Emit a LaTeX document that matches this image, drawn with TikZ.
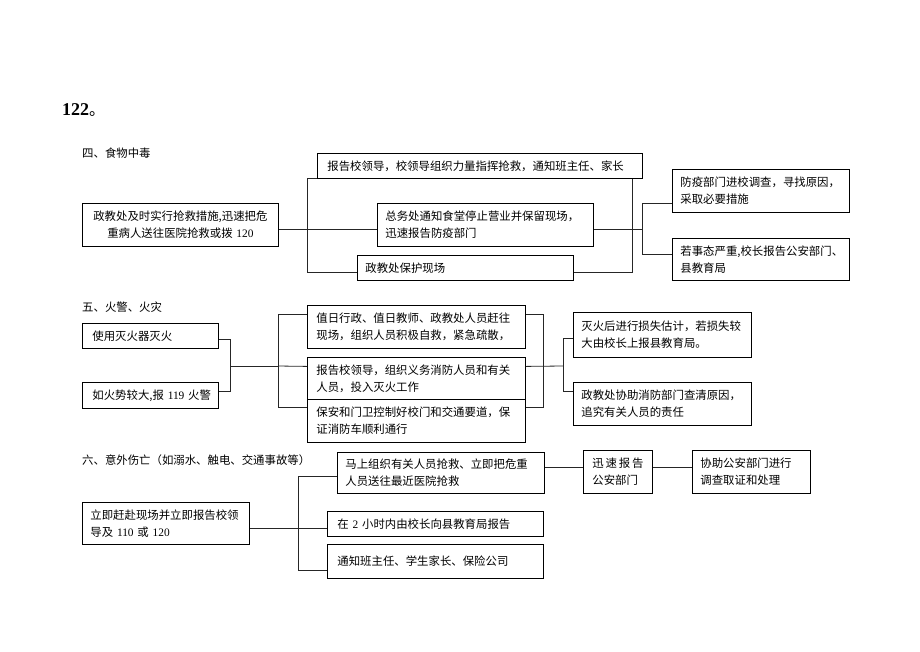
\documentclass[tikz,border=0pt]{standalone}
\usepackage{fontspec}
\setmainfont{Liberation Serif}
\newfontfamily\cjk{Noto Sans CJK SC}
\usepackage{tikz}
\usetikzlibrary{positioning, calc}

\begin{document}
\begin{tikzpicture}[x=1pt, y=-1pt]
\tikzstyle{box} = [rectangle, anchor=north west, draw=black, line width=0.8pt, fill=white, inner xsep=8pt, inner ysep=0pt, align=left, font={\cjk\fontsize{11.4}{17}\selectfont}]
\tikzstyle{title} = [anchor=west, inner sep=0pt, font={\cjk\fontsize{11.4}{14}\selectfont}]
\tikzstyle{line} = [line width=0.8pt, black!85]

\useasboundingbox (0,0) rectangle (920,651);

% header
\node[anchor=west, inner sep=0pt, font={\fontsize{18}{20}\selectfont\bfseries}] (head) at (62,110) {122{\cjk\mdseries\fontsize{16}{18}\selectfont 。}};

% food poisoning
\node[title] (sec4) at (82,153) {四、食物中毒};
\coordinate (f4nw) at (307,178);
\coordinate (f4se) at (632,272);
\draw[line] (f4nw) rectangle (f4se);

\node[box, align=center, text width=180, minimum height=43] (save) at (82,203) {政教处及时实行抢救措施,迅速把危\\重病人送往医院抢救或拨 \textrm{120}};
\node[box, inner xsep=10pt, text width=305, minimum height=25] (report4) at (317,153) {报告校领导，校领导组织力量指挥抢救，通知班主任、家长};
\node[box, text width=200, minimum height=43] (notify4) at (377,203) {总务处通知食堂停止营业并保留现场，\\迅速报告防疫部门};
\node[box, text width=200, minimum height=25] (protect4) at (357,255) {政教处保护现场};
\node[box, text width=161, minimum height=43] (r1) at (672,169) {防疫部门进校调查，寻找原因，\\采取必要措施};
\node[box, text width=161, minimum height=42] (r2) at (672,238) {若事态严重,校长报告公安部门、\\县教育局};

\draw[line] ([yshift=-4.5pt]save.east) -- ([yshift=-4.5pt]notify4.west);
\draw[line] ([yshift=-4.5pt]notify4.east) -- ++(49,0) coordinate (j4);
\draw[line] (j4) |- ([yshift=-12.5pt]r1.west);
\draw[line] (j4) |- ([yshift=5pt]r2.west);

% fire
\node[title] (sec5) at (82,307) {五、火警、火灾};
\node[box, inner xsep=10pt, text width=116, minimum height=25] (ext) at (82,323) {使用灭火器灭火};
\node[box, inner xsep=6pt, text width=124, minimum height=26] (big) at (82,382) {\hspace{4pt}如火势较大,报 \textrm{119} 火警};
\node[box, inner xsep=9pt, text width=200, minimum height=43] (f1) at (307,305) {值日行政、值日教师、政教处人员赶往\\现场，组织人员积极自救，紧急疏散，};
\node[box, inner xsep=9pt, text width=200, minimum height=42] (f2) at (307,357) {报告校领导，组织义务消防人员和有关\\人员，投入灭火工作};
\node[box, inner xsep=9pt, text width=200, minimum height=43] (f3) at (307,399) {保安和门卫控制好校门和交通要道，保\\证消防车顺利通行};
\node[box, text width=162, minimum height=45] (g1) at (573,312) {灭火后进行损失估计，若损失较\\大由校长上报县教育局。};
\node[box, text width=162, minimum height=43] (g2) at (573,382) {政教处协助消防部门查清原因，\\追究有关人员的责任};

\coordinate (j5a) at (230,366);
\coordinate (j5b) at (278,366);
\coordinate (j5c) at (543,366);
\coordinate (j5d) at (563,366);
\draw[line] ([yshift=-3.5pt]ext.east) -| (j5a);
\draw[line] ([yshift=4pt]big.east) -| (j5a);
\draw[line] (j5a) -- (j5b);
\draw[line] (j5b) |- ([yshift=12.5pt]f1.west);
\draw[line] (j5b) -- ([yshift=12pt]f2.west);
\draw[line] (j5b) |- ([yshift=13.5pt]f3.west);
\draw[line] ([yshift=12.5pt]f1.east) -| (j5c);
\draw[line] ([yshift=13.5pt]f3.east) -| (j5c);
\draw[line] ([yshift=12pt]f2.east) -- (j5d);
\draw[line] (j5d) |- ([yshift=-3.5pt]g1.west);
\draw[line] (j5d) |- ([yshift=12.5pt]g2.west);

% accidents
\node[title] (sec6) at (82,460) {六、意外伤亡（如溺水、触电、交通事故等）};
\node[box, text width=151, minimum height=42] (goto) at (82,502) {立即赶赴现场并立即报告校领\\导及 \textrm{110} 或 \textrm{120}};
\node[box, text width=191, minimum height=41] (a1) at (337,452) {马上组织有关人员抢救、立即把危重\\人员送往最近医院抢救};
\node[box, inner xsep=10pt, text width=196, minimum height=25] (a2) at (327,511) {在 \textrm{2} 小时内由校长向县教育局报告};
\node[box, inner xsep=10pt, text width=196, minimum height=34] (a3) at (327,544) {通知班主任、学生家长、保险公司};
\node[box, inner xsep=9pt, text width=51, minimum height=43] (b1) at (583,450) {\makebox[51pt][s]{迅\hfill 速\hfill 报\hfill 告}\\公安部门};
\node[box, text width=102, minimum height=43] (b2) at (692,450) {协助公安部门进行\\调查取证和处理};

\coordinate (j6) at (298,528);
\draw[line] ([yshift=-5pt]goto.east) -- ([yshift=-4.5pt]a2.west);
\draw[line] (j6) |- ([yshift=-3.5pt]a1.west);
\draw[line] (j6) |- ([yshift=-9pt]a3.west);
\draw[line] ([yshift=5.5pt]a1.east) -- ([yshift=4.5pt]b1.west);
\draw[line] ([yshift=4.5pt]b1.east) -- ([yshift=4.5pt]b2.west);
\end{tikzpicture}
\end{document}
